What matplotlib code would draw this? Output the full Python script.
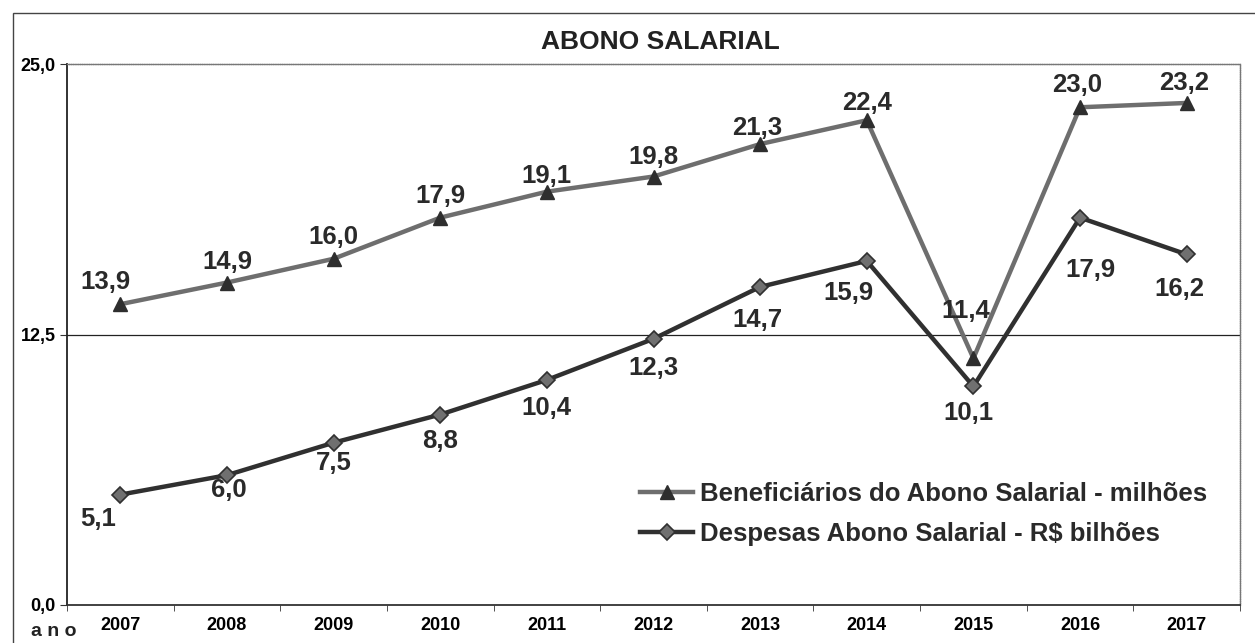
import numpy as np
import matplotlib
matplotlib.use("Agg")
import matplotlib.pyplot as plt
from matplotlib.patches import Rectangle

plt.rcParams['font.family'] = ['Liberation Sans', 'DejaVu Sans']

# data
anos = ['2007', '2008', '2009', '2010', '2011', '2012', '2013', '2014', '2015', '2016', '2017']
beneficiarios = [13.9, 14.9, 16.0, 17.9, 19.1, 19.8, 21.3, 22.4, 11.4, 23.0, 23.2]
despesas = [5.1, 6.0, 7.5, 8.8, 10.4, 12.3, 14.7, 15.9, 10.1, 17.9, 16.2]
yticks = [0.0, 12.5, 25.0]

# label offsets in pixels (dx, dy)
off_benef = [(-15, 22), (0, 21), (0, 22), (0, 22), (0, 16), (0, 20), (-3, 16), (0, 17), (-8, 47), (-3, 22), (-3, 20)]
off_desp = [(-22, -24), (2, -15), (0, -20), (0, -26), (0, -28), (0, -29), (-3, -33), (-18, -32), (-5, -27), (10, -52), (-7, -35)]

fig = plt.figure(figsize=(12.55, 6.43), dpi=100)
fig.patches.append(Rectangle((13/1255, -0.1), 1.2, 1 - 13/643 + 0.1, transform=fig.transFigure,
                             fill=False, edgecolor='#444444', linewidth=1.0))
ax = fig.add_axes([67/1255, 1 - 605/643, (1240 - 67)/1255, (605 - 64)/643])

x = np.arange(len(anos))
ax.axhline(12.5, color='#222222', linewidth=0.9, zorder=1)

ax.plot(x, beneficiarios, color='#6e6e6e', linewidth=3.2, marker='^', markersize=10,
        markerfacecolor='#2e2e2e', markeredgecolor='#2e2e2e', zorder=3,
        label='Beneficiários do Abono Salarial - milhões')
ax.plot(x, despesas, color='#303030', linewidth=3.2, marker='D', markersize=8,
        markerfacecolor='#707070', markeredgecolor='#303030', markeredgewidth=1.2, zorder=3,
        label='Despesas Abono Salarial - R$ bilhões')

for i, v in enumerate(beneficiarios):
    ax.annotate(f'{v:.1f}'.replace('.', ','), (x[i], v), xytext=off_benef[i],
                textcoords='offset pixels', ha='center', va='center',
                fontsize=18.5, fontweight='bold', color='#2a2a2a')
for i, v in enumerate(despesas):
    ax.annotate(f'{v:.1f}'.replace('.', ','), (x[i], v), xytext=off_desp[i],
                textcoords='offset pixels', ha='center', va='center',
                fontsize=18.5, fontweight='bold', color='#2a2a2a')

ax.set_xlim(-0.5, len(anos) - 0.5)
ax.set_ylim(0, 25)
ax.set_yticks(yticks)
ax.set_yticklabels([f'{t:.1f}'.replace('.', ',') for t in yticks], fontsize=13, fontweight='bold')
ax.set_xticks(x)
ax.set_xticklabels(anos, fontsize=13, fontweight='bold')
ax.set_xticks(np.arange(-0.5, len(anos)), minor=True)
ax.tick_params(axis='x', which='major', length=0, pad=9)
ax.tick_params(axis='x', which='minor', length=4, direction='out', color='#333333')
ax.tick_params(axis='y', length=5, direction='out', pad=3, color='#333333')

for side in ['top', 'right']:
    ax.spines[side].set_color('#777777')
    ax.spines[side].set_linestyle((0, (1, 0.6)))
    ax.spines[side].set_linewidth(1.0)
ax.spines['left'].set_linewidth(1.3)
ax.spines['left'].set_color('#222222')
ax.spines['bottom'].set_linewidth(1.3)
ax.spines['bottom'].set_color('#333333')

fig.text(660/1255, 1 - 42/643, 'ABONO SALARIAL', ha='center', va='center',
         fontsize=19, fontweight='bold', color='#222222')
fig.text(54/1255, 1 - 632/643, 'a n o', ha='center', va='center',
         fontsize=14, fontweight='bold', color='#222222')

leg = ax.legend(loc='upper left', bbox_to_anchor=(0.469, 0.27), frameon=False,
                handlelength=2.06, handletextpad=0.27, labelspacing=0.62,
                prop={'weight': 'bold', 'size': 18.5})
for t in leg.get_texts():
    t.set_color('#2a2a2a')

fig.savefig('out.png', dpi=100)
